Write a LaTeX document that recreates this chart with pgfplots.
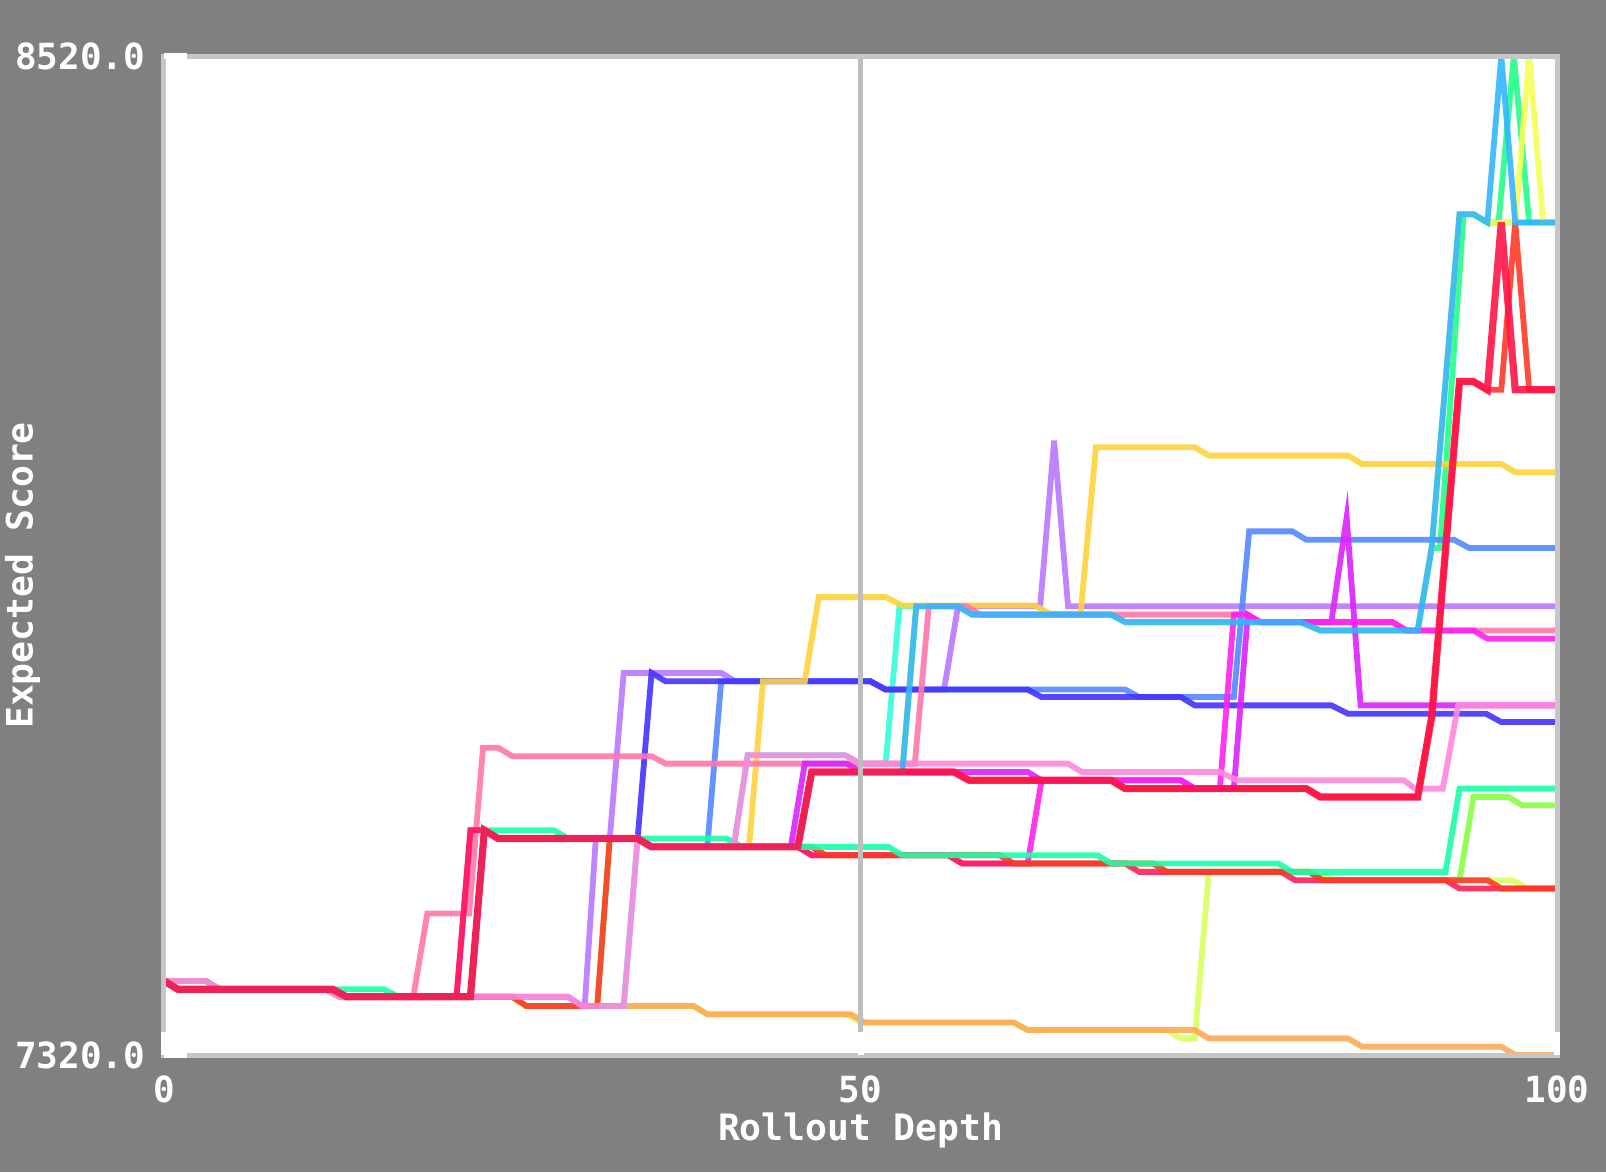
\documentclass[border=0pt]{standalone}
\usepackage{fontspec}
\setmonofont{DejaVu Sans Mono}
\usepackage{pgfplots}
\pgfplotsset{compat=1.18}
\definecolor{bg}{HTML}{808080}
\definecolor{framegray}{HTML}{C6C6C6}
\definecolor{gridgray}{HTML}{BEBEBE}
\definecolor{cCrimson}{HTML}{FF1447}
\definecolor{cCrimsonB}{HTML}{FF1E58}
\definecolor{cRedOr}{HTML}{FF3A28}
\definecolor{cOrange}{HTML}{FFAA55}
\definecolor{cYG}{HTML}{D8FF5E}
\definecolor{cLime}{HTML}{88FF44}
\definecolor{cMint}{HTML}{1AFFAA}
\definecolor{cSpring}{HTML}{22FF88}
\definecolor{cAqua}{HTML}{33FFDD}
\definecolor{cYellow}{HTML}{F5FF5A}
\definecolor{cSky}{HTML}{33B5FF}
\definecolor{cGold}{HTML}{FFD23C}
\definecolor{cCorn}{HTML}{5588FF}
\definecolor{cBlue}{HTML}{4433FF}
\definecolor{cLav}{HTML}{BB77FF}
\definecolor{cSalmon}{HTML}{FF77AA}
\definecolor{cLPink}{HTML}{FF88DD}
\definecolor{cMagP}{HTML}{DD22FF}
\definecolor{cMagH}{HTML}{FF22EE}
\begin{document}
\begin{tikzpicture}
\fill[bg] (-41pt,-29.25pt) rectangle (360.5pt,263.75pt);
\begin{axis}[
  scale only axis, width=348.25pt, height=249.75pt,
  xmin=0, xmax=100, ymin=7320, ymax=8520,
  axis background/.style={fill=white},
  axis on top,
  axis line style={draw=framegray, line width=1.25pt},
  xtick={0,50,100}, xticklabels={0,50,100},
  ytick={7320,8520}, yticklabels={7320.0,8520.0},
  xmajorgrids, major grid style={draw=gridgray, line width=1.2pt},
  xtick pos=bottom, ytick pos=left,
  xtick style={draw=none}, ytick style={draw=none},
  tick label style={text=white, font=\ttfamily\bfseries\fontsize{9}{10}\selectfont},
  xticklabel style={yshift=-1.6pt},
  yticklabel style={xshift=-1.2pt},
  xlabel={Rollout Depth}, ylabel={Expected Score},
  label style={text=white, font=\ttfamily\bfseries\fontsize{9.1}{10}\selectfont},
  xlabel style={at={(axis description cs:0.5,-0.0753)}, anchor=center},
  ylabel style={at={(axis description cs:-0.1016,0.48)}, anchor=center},
  every axis plot/.append style={line width=1.45pt, line join=miter, draw opacity=0.9},
]
% yellow-green
\addplot[cYG] coordinates {(0,7409)(3,7409)(4,7399)(11.6,7399)(12.6,7390)(25,7390)(26,7379)(38,7379)(39,7369)(49,7369)(50,7359)(61,7359)(62,7350)(72,7350)(73,7340)(74,7340)(75,7540)(83,7540)(84,7530)(96.8,7530)(97.9,7520)(100,7520)};
% orange
\addplot[cOrange] coordinates {(0,7409)(3,7409)(4,7399)(11.6,7399)(12.6,7390)(25,7390)(26,7379)(38,7379)(39,7369)(49.3,7369)(50.3,7359)(61,7359)(62,7350)(74,7350)(75,7340)(85,7340)(86,7330)(96,7330)(97,7320)(100,7320)};
% lime
\addplot[cLime] coordinates {(0,7409)(1,7399)(12.1,7399)(13.1,7390)(25,7390)(26,7379)(31.1,7379)(32,7580)(34,7580)(35,7570)(46.5,7570)(47.5,7560)(60,7560)(61,7550)(71,7550)(72,7540)(82.2,7540)(83.2,7530)(93,7530)(94,7630)(96.5,7630)(97.5,7620)(100,7620)};
% aqua
\addplot[cAqua] coordinates {(0,7409)(3,7409)(4,7399)(11.6,7399)(12.6,7390)(29,7390)(30,7379)(33,7379)(34,7580)(35,7570)(40.9,7570)(41.9,7680)(48.9,7680)(50,7670)(51.8,7670)(52.8,7859)(57,7859)(58,7849)(68,7849)(69,7840)(81.6,7840)(83,7830)(90,7830)(91,7929)(93,8330)(94,8330)(95,8320)(100,8320)};
% spring green
\addplot[cSpring] coordinates {(0,7409)(1,7399)(12.1,7399)(13.1,7390)(22,7390)(23,7590)(24,7580)(34,7580)(35,7570)(45.5,7570)(46.5,7660)(53,7660)(54,7859)(57,7859)(58,7849)(68,7849)(69,7840)(81.6,7840)(83,7830)(90,7830)(91,7929)(91.6,7929)(93.3,8330)(94,8330)(95,8320)(95.8,8320)(96.9,8520)(98,8320)(100,8320)};
% yellow
\addplot[cYellow] coordinates {(0,7409)(1,7399)(12.1,7399)(13.1,7390)(22,7390)(23,7590)(24,7580)(34,7580)(35,7570)(45.5,7570)(46.5,7660)(53,7660)(54,7859)(57,7859)(58,7849)(68,7849)(69,7840)(81.6,7840)(83,7830)(90,7830)(91,7929)(93,8330)(94,8330)(95,8320)(97,8320)(98,8520)(99,8320)(100,8320)};
% red-orange (upper)
\addplot[cRedOr] coordinates {(0,7409)(1,7399)(12.1,7399)(13.1,7390)(22,7390)(23,7590)(24,7580)(34,7580)(35,7570)(45.5,7570)(46.5,7660)(56.7,7660)(57.8,7650)(68,7650)(69,7640)(82,7640)(83,7630)(90,7630)(91,7726)(93,8129)(94,8129)(95,8119)(96,8119)(97,8320)(98,8119)(100,8119)};
% lavender
\addplot[cLav] coordinates {(0,7409)(3,7409)(4,7399)(11.6,7399)(12.6,7390)(29,7390)(30,7379)(30.2,7379)(31,7580)(32,7580)(33,7779)(40,7779)(41,7769)(50.7,7769)(51.8,7759)(56,7759)(57,7859)(62.9,7859)(63.9,8058)(64.9,7859)(100,7859)};
% cornflower
\addplot[cCorn] coordinates {(0,7409)(1,7399)(12.1,7399)(13.1,7390)(22,7390)(23,7590)(24,7580)(34,7580)(35,7570)(39,7570)(40,7769)(50.7,7769)(51.8,7759)(69,7759)(70,7750)(76.8,7750)(77.9,7949)(81,7949)(82,7939)(92.6,7939)(93.7,7929)(100,7929)};
% blue
\addplot[cBlue] coordinates {(0,7409)(1,7399)(12.1,7399)(13.1,7390)(22,7390)(23,7590)(24,7580)(34,7580)(35,7779)(36,7769)(50.7,7769)(51.8,7759)(62,7759)(63,7750)(73,7750)(74,7740)(83.8,7740)(85,7730)(94.9,7730)(96,7720)(100,7720)};
% gold
\addplot[cGold] coordinates {(0,7409)(3,7409)(4,7399)(11.6,7399)(12.6,7390)(22,7390)(23,7590)(24,7580)(34,7580)(35,7570)(42,7570)(43,7769)(46,7769)(47,7870)(51.8,7870)(53,7860)(62.5,7860)(63.6,7850)(65.8,7850)(66.9,8050)(74,8050)(75,8040)(85,8040)(86,8030)(96,8030)(97,8020)(100,8020)};
% salmon
\addplot[cSalmon] coordinates {(0,7409)(3,7409)(4,7399)(11.6,7399)(12.6,7390)(17.9,7390)(18.9,7490)(21.9,7490)(22.9,7689)(24,7689)(25,7679)(35,7679)(36,7670)(53.9,7670)(54.9,7859)(57.6,7859)(58.6,7849)(77.6,7849)(78.7,7840)(88.2,7840)(89.2,7830)(100,7830)};
% magenta (purple)
\addplot[cMagP] coordinates {(0,7409)(1,7399)(12.1,7399)(13.1,7390)(22,7390)(23,7590)(24,7580)(34,7580)(35,7570)(45,7570)(46,7670)(49,7670)(50,7660)(62,7660)(63,7650)(73,7650)(74,7640)(76.8,7640)(77.8,7849)(78.7,7840)(83.8,7840)(84.9,7966)(85.9,7740)(100,7740)};
% magenta (hot)
\addplot[cMagH] coordinates {(0,7409)(1,7399)(12.1,7399)(13.1,7390)(21,7390)(22,7590)(23,7590)(24,7580)(34,7580)(35,7570)(45.5,7570)(46.5,7560)(56.3,7560)(57.3,7550)(62,7550)(63,7650)(73,7650)(74,7640)(75.8,7640)(76.8,7849)(77.6,7849)(78.7,7840)(88.2,7840)(89.2,7830)(94,7830)(95,7820)(100,7820)};
% crimson (thin)
\addplot[cCrimsonB] coordinates {(0,7409)(1,7399)(12.1,7399)(13.1,7390)(21,7390)(22,7590)(23,7590)(24,7580)(34,7580)(35,7570)(45.5,7570)(46.5,7560)(56.3,7560)(57.3,7550)(69,7550)(70,7540)(80.2,7540)(81.2,7530)(92,7530)(93,7520)(100,7520)};
% red-orange (lower)
\addplot[cRedOr] coordinates {(0,7409)(1,7399)(12.1,7399)(13.1,7390)(25,7390)(26,7379)(31.1,7379)(32,7580)(34,7580)(35,7570)(46.5,7570)(47.5,7560)(60,7560)(61,7550)(71,7550)(72,7540)(82.2,7540)(83.2,7530)(95,7530)(96,7520)(100,7520)};
% mint
\addplot[cMint] coordinates {(0,7409)(3,7409)(4,7399)(15.8,7399)(16.8,7390)(22,7390)(23,7590)(28,7590)(29,7580)(40.4,7580)(41.5,7570)(52,7570)(53,7560)(67,7560)(68,7550)(80,7550)(81,7540)(92,7540)(93,7640)(100,7640)};
% light pink
\addplot[cLPink] coordinates {(0,7409)(3,7409)(4,7399)(11.6,7399)(12.6,7390)(29,7390)(30,7379)(33,7379)(34,7580)(35,7570)(40.9,7570)(41.9,7680)(48.9,7680)(50,7670)(64.9,7670)(65.9,7660)(75.8,7660)(77,7650)(89,7650)(89.8,7640)(91.8,7640)(92.9,7740)(100,7740)};
% sky blue
\addplot[cSky] coordinates {(0,7409)(1,7399)(12.1,7399)(13.1,7390)(22,7390)(23,7590)(24,7580)(34,7580)(35,7570)(45.5,7570)(46.5,7660)(53,7660)(54,7859)(57,7859)(58,7849)(68,7849)(69,7840)(81.6,7840)(83,7830)(90,7830)(91,7929)(93,8330)(94,8330)(95,8320)(96,8520)(97,8320)(100,8320)};
% crimson (thick)
\addplot[cCrimson, line width=1.8pt] coordinates {(0,7409)(1,7399)(12.1,7399)(13.1,7390)(22,7390)(23,7590)(24,7580)(34,7580)(35,7570)(45.5,7570)(46.5,7660)(56.7,7660)(57.8,7650)(68,7650)(69,7640)(82,7640)(83,7630)(90,7630)(91,7726)(93,8129)(94,8129)(95,8119)(96,8320)(97,8119)(100,8119)};
\end{axis}
% tick marks (white, inward)
\draw[white, line width=1.5pt] (0,249.75pt) -- ++(5.8pt,0);
\draw[white, line width=1.5pt] (0,0) -- ++(5.8pt,0);
\draw[white, line width=1.5pt] (0,0) -- ++(0,5.8pt);
\draw[white, line width=1.5pt] (174.125pt,0) -- ++(0,5.8pt);
\draw[white, line width=1.5pt] (348.25pt,0) -- ++(0,5.8pt);
\pgfresetboundingbox
\path (-41pt,-29.25pt) rectangle (360.5pt,263.75pt);
\end{tikzpicture}
\end{document}
